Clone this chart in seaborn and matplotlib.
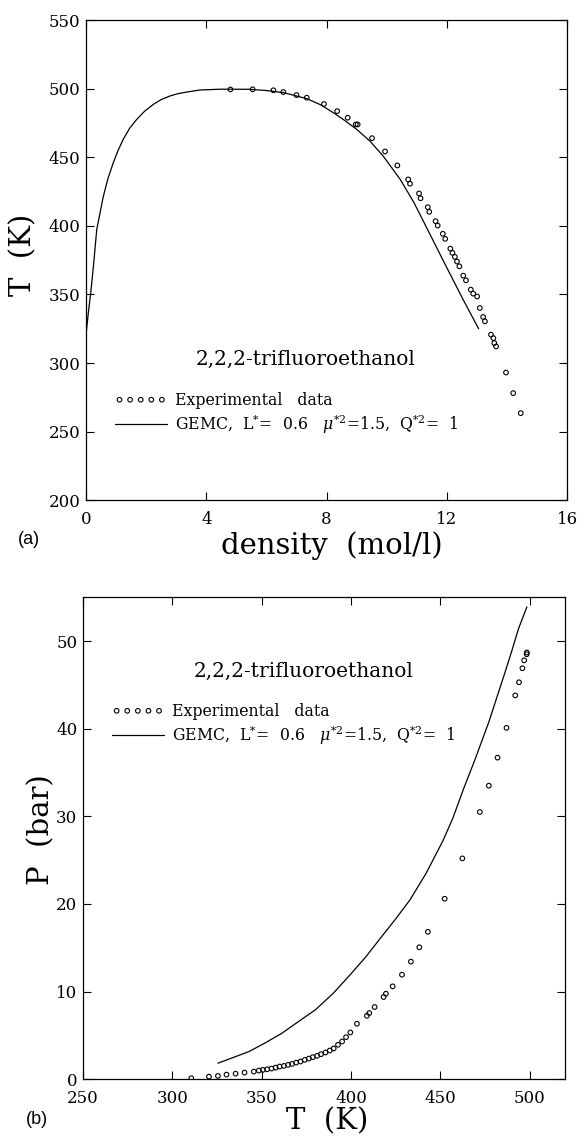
import matplotlib
matplotlib.use("Agg")
import matplotlib.pyplot as plt
import seaborn as sns

# ---- (a) coexistence curve: density (mol/l) vs T (K) ----
exp_density = [4.80, 5.54, 6.23, 6.56, 7.00, 7.34, 7.91, 8.35, 8.70, 8.97, 9.03,
               9.51, 9.94, 10.35, 10.71, 10.77, 11.07, 11.12, 11.36, 11.41, 11.62,
               11.69, 11.86, 11.94, 12.11, 12.18, 12.26, 12.33, 12.41, 12.54, 12.63,
               12.79, 12.87, 13.00, 13.09, 13.20, 13.26, 13.46, 13.54, 13.57, 13.63,
               13.96, 14.20, 14.45]
exp_T_a = [499.4, 499.5, 498.8, 497.5, 495.3, 493.4, 488.8, 483.6, 478.8, 473.9, 473.9,
           463.9, 454.2, 444.0, 433.8, 430.7, 423.6, 420.1, 413.6, 410.2, 403.4,
           400.2, 394.2, 390.5, 383.4, 380.3, 377.4, 374.0, 370.5, 363.7, 360.3,
           353.5, 350.6, 348.5, 340.1, 333.6, 330.4, 320.7, 318.2, 314.6, 312.1,
           293.1, 278.1, 263.5]

gemc_density = [0.02, 0.08, 0.16, 0.25, 0.36, 0.47, 0.58, 0.74, 0.91, 1.07, 1.24,
                1.45, 1.69, 1.95, 2.24, 2.50, 2.79, 3.05, 3.35, 3.79, 4.50, 5.45,
                6.00, 6.56, 7.34, 7.80, 8.22, 8.60, 9.00, 9.45, 9.88, 10.44, 10.90,
                11.43, 11.97, 12.53, 13.05]
gemc_T_a = [324.0, 336.5, 351.0, 370.5, 397.3, 409.5, 421.6, 435.0, 446.0, 455.0, 463.0,
            471.0, 477.6, 483.5, 488.5, 492.0, 494.6, 496.3, 497.5, 499.0, 499.6, 499.5,
            498.6, 497.1, 492.7, 488.2, 482.5, 476.8, 470.3, 461.5, 450.8, 434.0, 417.0,
            394.0, 370.5, 346.5, 325.0]

# ---- (b) vapour pressure: T (K) vs P (bar) ----
exp_T_b = [310.6, 320.5, 325.5, 330.3, 335.4, 340.4, 345.6, 348.4, 350.7, 353.1,
           355.5, 357.8, 360.0, 362.4, 364.8, 367.0, 369.3, 371.7, 374.1, 376.4,
           378.6, 381.0, 383.2, 385.7, 388.1, 390.3, 392.7, 395.0, 397.2, 399.6,
           403.3, 408.9, 410.2, 413.2, 418.2, 419.5, 423.3, 428.5, 433.5, 438.2,
           443.0, 452.4, 462.3, 472.1, 477.1, 482.0, 487.0, 491.9, 494.0, 495.9,
           496.9, 498.3, 498.4]
exp_P_b = [0.11, 0.30, 0.38, 0.53, 0.64, 0.76, 0.87, 0.99, 1.07, 1.14,
           1.22, 1.33, 1.45, 1.52, 1.64, 1.75, 1.90, 2.02, 2.21, 2.36,
           2.52, 2.67, 2.86, 3.05, 3.28, 3.51, 3.93, 4.31, 4.80, 5.34,
           6.33, 7.24, 7.55, 8.24, 9.38, 9.76, 10.60, 11.93, 13.42, 15.06,
           16.82, 20.60, 25.20, 30.50, 33.50, 36.70, 40.10, 43.80, 45.30, 46.90,
           47.80, 48.50, 48.70]

gemc_T_b = [325.5, 333.0, 342.9, 352.0, 361.4, 370.0, 380.1, 390.0, 398.7, 408.0,
            417.3, 425.0, 433.1, 442.0, 451.4, 457.0, 462.9, 469.4, 477.0, 486.2,
            490.0, 493.7, 498.4]
gemc_P_b = [1.83, 2.40, 3.16, 4.15, 5.26, 6.50, 7.93, 9.80, 11.74, 13.90,
            16.32, 18.30, 20.50, 23.50, 27.20, 29.80, 33.10, 36.50, 40.70, 46.45,
            48.90, 51.40, 53.90]

substance = "2,2,2-trifluoroethanol"
exp_label = "Experimental   data"
gemc_label = r"GEMC,  L$^{*}$=  0.6   $\mu^{*2}$=1.5,  Q$^{*2}$=  1"

sns.set_style("ticks")
plt.rcParams["font.family"] = ["DejaVu Serif"]
plt.rcParams["mathtext.fontset"] = "dejavuserif"
plt.rcParams["axes.linewidth"] = 0.9
for key in ("text.color", "axes.labelcolor", "xtick.color", "ytick.color",
            "axes.edgecolor"):
    plt.rcParams[key] = "black"

fig = plt.figure(figsize=(5.82, 11.37), dpi=100)
ax_a = fig.add_axes([0.1476, 0.560, 0.8273, 0.4224])
ax_b = fig.add_axes([0.1426, 0.0508, 0.8290, 0.4239])

marker_kw = dict(marker="o", s=11, color="black", facecolor="none",
                 edgecolor="black", linewidth=0.8)
line_kw = dict(color="black", linewidth=0.9, sort=False, estimator=None)
legend_kw = dict(loc="upper left", frameon=False, fontsize=11.3, scatterpoints=5,
                 scatteryoffsets=[0.5], handlelength=3.3, handletextpad=0.55,
                 labelspacing=0.2, borderpad=0, borderaxespad=0)

# panel (a)
sns.scatterplot(x=exp_density, y=exp_T_a, ax=ax_a, label=exp_label, **marker_kw)
sns.lineplot(x=gemc_density, y=gemc_T_a, ax=ax_a, label=gemc_label, **line_kw)
ax_a.set_xlim(0, 16)
ax_a.set_ylim(200, 550)
ax_a.set_xticks([0, 4, 8, 12, 16])
ax_a.set_yticks(range(200, 551, 50))
ax_a.set_xlabel("density  (mol/l)", fontsize=21)
ax_a.set_ylabel("T  (K)", fontsize=21)
ax_a.xaxis.set_label_coords(0.511, -0.064)
ax_a.yaxis.set_label_coords(-0.100, 0.51)
ax_a.text(0.456, 0.294, substance, transform=ax_a.transAxes,
          ha="center", va="center", fontsize=14.5)
ax_a.legend(bbox_to_anchor=(0.060, 0.225), **legend_kw)

# panel (b)
sns.scatterplot(x=exp_T_b, y=exp_P_b, ax=ax_b, label=exp_label, **marker_kw)
sns.lineplot(x=gemc_T_b, y=gemc_P_b, ax=ax_b, label=gemc_label, **line_kw)
ax_b.set_xlim(250, 520)
ax_b.set_ylim(0, 55)
ax_b.set_xticks(range(250, 501, 50))
ax_b.set_yticks(range(0, 51, 10))
ax_b.set_xlabel("T  (K)", fontsize=21)
ax_b.set_ylabel("P  (bar)", fontsize=21)
ax_b.xaxis.set_label_coords(0.506, -0.058)
ax_b.yaxis.set_label_coords(-0.058, 0.517)
ax_b.text(0.457, 0.846, substance, transform=ax_b.transAxes,
          ha="center", va="center", fontsize=14.5)
ax_b.legend(bbox_to_anchor=(0.060, 0.780), **legend_kw)

for ax in (ax_a, ax_b):
    ax.tick_params(axis="both", direction="in", top=True, right=True,
                   length=6, width=0.8, labelsize=12, colors="black")
    ax.tick_params(axis="x", pad=8)
    ax.tick_params(axis="y", pad=4)
    for side in ("top", "right", "left", "bottom"):
        ax.spines[side].set_visible(True)
        ax.spines[side].set_color("black")

fig.text(18 / 582, 1 - 540 / 1137, "(a)", fontsize=13, family="Liberation Sans",
         ha="left", va="center")
fig.text(26 / 582, 1 - 1120 / 1137, "(b)", fontsize=13, family="Liberation Sans",
         ha="left", va="center")

fig.savefig("out.png", dpi=100, facecolor="white")
